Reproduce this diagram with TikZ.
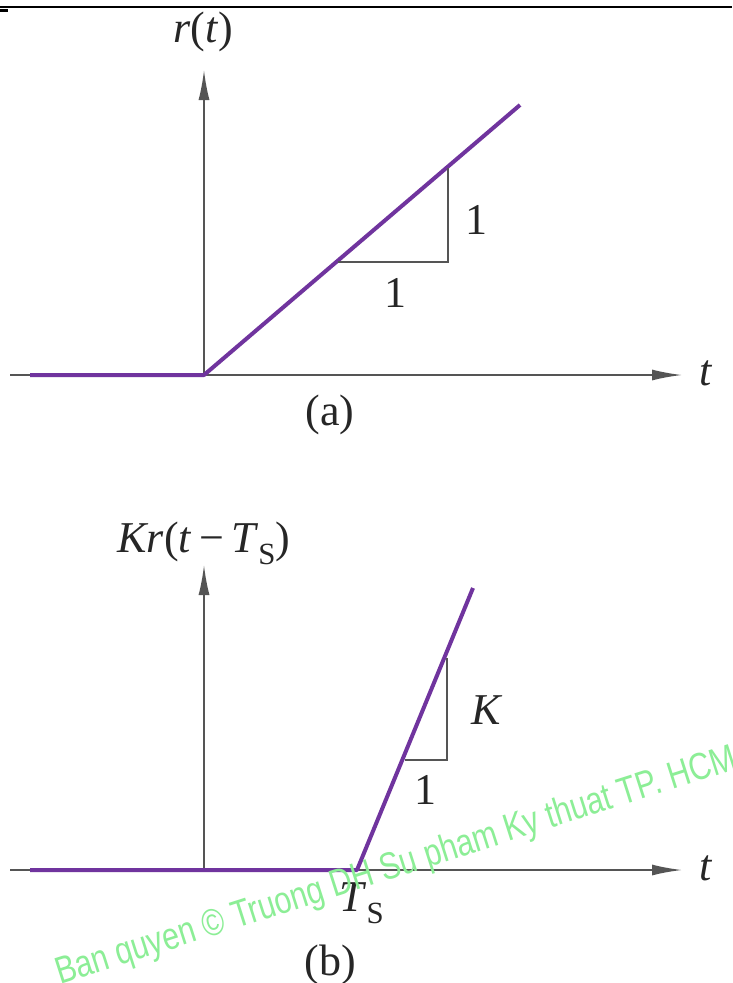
\documentclass[tikz,border=0pt]{standalone}
\usepackage{fontspec}
\setmainfont{Liberation Serif}
\newfontfamily\wmfont{Liberation Sans}
\usetikzlibrary{arrows.meta}
\definecolor{ramp}{RGB}{112,52,158}
\definecolor{axisgray}{RGB}{85,85,85}
\definecolor{wmgreen}{RGB}{140,238,150}
\tikzset{
  axis/.style={draw=axisgray, line width=1.8pt, -{Latex[length=30pt,width=11pt]}},
  rampline/.style={draw=ramp, line width=4pt, line join=round},
  tri/.style={draw=axisgray, line width=1.8pt},
  lbl/.style={font=\fontsize{44}{46}\selectfont, text=black!85, inner sep=0pt},
  wm/.style={font=\wmfont\fontsize{38}{40}\selectfont, text=wmgreen, inner sep=0pt}
}
\begin{document}
\begin{tikzpicture}[x=1pt,y=-1pt]
\useasboundingbox[fill=white] (0,0) rectangle (732,983);
% top rule
\coordinate (rl) at (0,7);
\coordinate (rr) at (732,7);
\draw[black, line width=2pt] (rl) -- (rr);
\coordinate (tk0) at (0,10);
\coordinate (tk1) at (8,10);
\draw[black, line width=3pt] (tk0) -- (tk1);

% ---------- (a) ----------
\coordinate (oa) at (204,375);
\coordinate (ya) at (204,70);
\coordinate (xa0) at (10,375);
\coordinate (xa1) at (682,375);
\draw[axis] (oa) -- (ya);
\draw[axis] (xa0) -- (xa1);
\coordinate (pa0) at (30,375);
\coordinate (pa1) at (520,105);
\draw[rampline] (pa0) -- (oa) -- (pa1);
\coordinate (ta1) at (338,262);
\coordinate (ta2) at (448,262);
\coordinate (ta3) at (448,168);
\draw[tri] (ta1) -- (ta2) -- (ta3);
\node[lbl] (rt) at (203,32) {\textit{r}(\textit{t})};
\node[lbl] (tA) at (706,373) {\textit{t}};
\node[lbl] (oneAv) at (476,220) {1};
\node[lbl] (oneAh) at (395,293) {1};
\node[lbl] (capA) at (330,415) {(a)};

% ---------- (b) ----------
\coordinate (ob) at (204,870);
\coordinate (yb) at (204,565);
\coordinate (xb0) at (10,870);
\coordinate (xb1) at (682,870);
\draw[axis] (ob) -- (yb);
\draw[axis] (xb0) -- (xb1);
\coordinate (pb0) at (30,870);
\coordinate (pb1) at (357,870);
\coordinate (pb2) at (473,588);
\draw[rampline] (pb0) -- (pb1) -- (pb2);
\coordinate (tb1) at (405,760);
\coordinate (tb2) at (447,760);
\coordinate (tb3) at (447,658);
\draw[tri] (tb1) -- (tb2) -- (tb3);
\node[lbl] (krt) at (204,543) {\textit{Kr}(\textit{t}\,−\,\textit{T}\textsubscript{S})};
\node[lbl] (tB) at (706,868) {\textit{t}};
\node[lbl] (kB) at (487,710) {\textit{K}};
\node[lbl] (oneB) at (425,790) {1};
\node[lbl] (ts) at (362,903) {\textit{T}\textsubscript{S}};
\node[lbl] (capB) at (330,965) {(b)};

% watermark
\node[wm, rotate=17.7, xscale=0.8, anchor=base west] (wmark) at (60,985) {Ban quyen © Truong DH Su pham Ky thuat TP. HCM};
\end{tikzpicture}
\end{document}
